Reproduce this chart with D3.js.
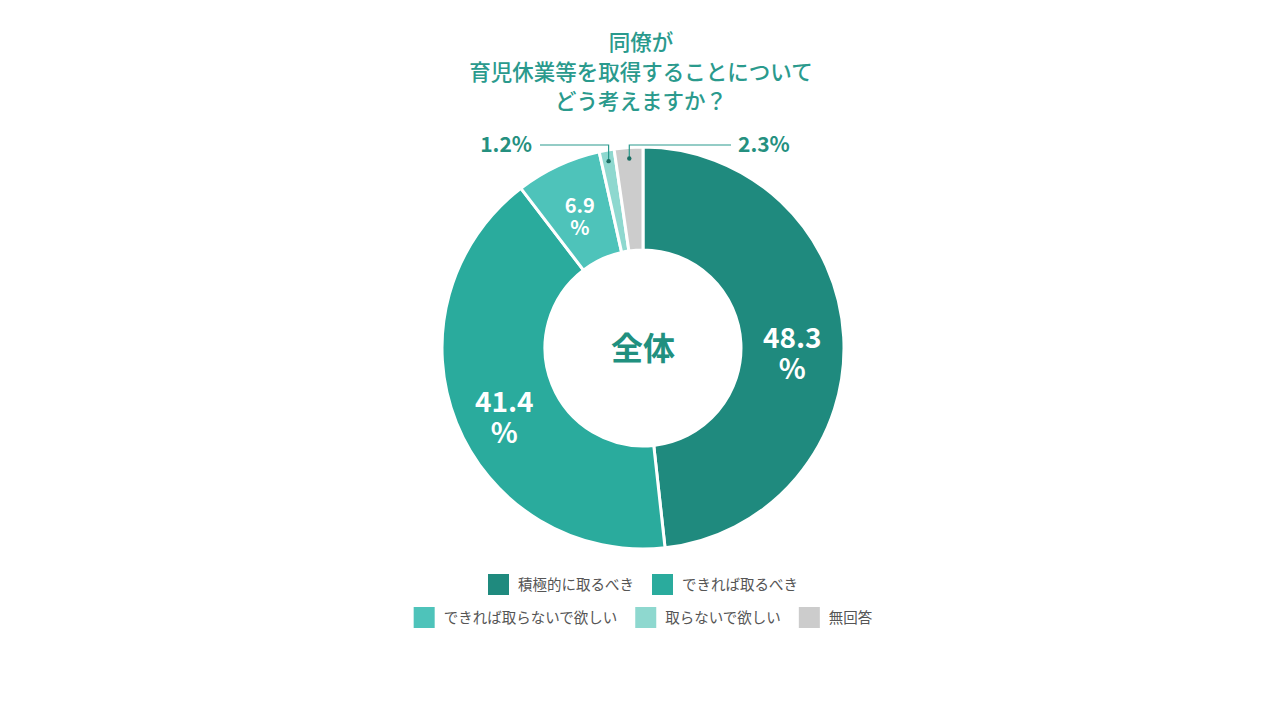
<!DOCTYPE html>
<html>
<head>
<meta charset="utf-8">
<script src="https://cdn.jsdelivr.net/npm/d3@7"></script>
<style>
  body { margin: 0; background: #fff; }
  svg text { font-family: "Noto Sans CJK JP", "Noto Sans", sans-serif; }
</style>
</head>
<body>
<svg id="chart" width="1280" height="720"></svg>
<script>
var titleLines = ["同僚が", "育児休業等を取得することについて", "どう考えますか？"];
var categories = ["積極的に取るべき", "できれば取るべき", "できれば取らないで欲しい", "取らないで欲しい", "無回答"];
var values = [48.3, 41.4, 6.9, 1.2, 2.3];
var colors = ["#1f8a7e", "#2aab9d", "#4ec3ba", "#8ed8cf", "#cccccc"];
var centerLabel = "全体";

var svg = d3.select('#chart');
var cx = 643, cy = 348, outerR = 201, innerR = 98;
var teal = "#2a9a8d";

// title
svg.append('g')
  .selectAll('text')
  .data(titleLines)
  .enter()
  .append('text')
  .attr('x', 641)
  .attr('y', function(d, i){ return 50 + i * 29.5; })
  .attr('text-anchor', 'middle')
  .attr('font-size', 21.5)
  .attr('font-weight', 500)
  .attr('fill', teal)
  .text(function(d){ return d; });

var pie = d3.pie().sort(null).value(function(d){ return d; });
var arcs = pie(values);
var arc = d3.arc().innerRadius(innerR).outerRadius(outerR);
var labelArc = d3.arc().innerRadius(innerR).outerRadius(outerR);
var calloutArc = d3.arc().innerRadius(190).outerRadius(190);

var chart = svg.append('g').attr('transform', 'translate(' + cx + ',' + cy + ')');

chart.selectAll('path')
  .data(arcs)
  .enter()
  .append('path')
  .attr('d', arc)
  .attr('fill', function(d, i){ return colors[i]; })
  .attr('stroke', '#fff')
  .attr('stroke-width', 3);

chart.append('text')
  .attr('x', 0)
  .attr('y', 12)
  .attr('text-anchor', 'middle')
  .attr('font-size', 32)
  .attr('font-weight', 700)
  .attr('fill', '#21907f')
  .text(centerLabel);

// labels inside slices (big enough), callouts for the small ones
arcs.forEach(function(d, i){
  var c = labelArc.centroid(d);
  if (d.data >= 5) {
    var big = d.data >= 20;
    var fs = big ? 28 : 20;
    var gap = big ? 31 : 22;
    var shift = big ? 14 : 4;
    [d.data, '%'].forEach(function(s, j){
      chart.append('text')
        .attr('x', c[0])
        .attr('y', c[1] + shift + (j - 0.5) * gap + fs * 0.36)
        .attr('text-anchor', 'middle')
        .attr('font-size', fs)
        .attr('font-weight', 700)
        .attr('fill', '#fff')
        .text(s);
    });
  } else {
    var p = calloutArc.centroid(d);
    var left = p[0] < -25;
    var ly = -203;
    var endX = left ? -103 : 88;
    chart.append('path')
      .attr('d', 'M' + p[0] + ',' + p[1] + 'V' + ly + 'H' + endX)
      .attr('fill', 'none')
      .attr('stroke', teal)
      .attr('stroke-width', 1.2);
    chart.append('circle')
      .attr('cx', p[0]).attr('cy', p[1]).attr('r', 2.2)
      .attr('fill', '#1b6e64');
    chart.append('text')
      .attr('x', left ? endX - 8 : endX + 7)
      .attr('y', ly + 7)
      .attr('text-anchor', left ? 'end' : 'start')
      .attr('font-size', 21)
      .attr('font-weight', 700)
      .attr('fill', '#25907f')
      .text(d.data + '%');
  }
});

// legend
var rows = [[0, 1], [2, 3, 4]];
var rowY = [584, 617];
rows.forEach(function(row, r){
  var g = svg.append('g');
  var x = 0;
  row.forEach(function(k){
    g.append('rect')
      .attr('x', x).attr('y', rowY[r] - 10)
      .attr('width', 21).attr('height', 21)
      .attr('fill', colors[k]);
    var t = g.append('text')
      .attr('x', x + 30).attr('y', rowY[r] + 6)
      .attr('font-size', 14.5)
      .attr('fill', '#555')
      .text(categories[k]);
    x += 30 + t.node().getComputedTextLength() + 18;
  });
  var w = x - 18;
  g.attr('transform', 'translate(' + (643 - w / 2) + ',0)');
});
</script>
</body>
</html>
